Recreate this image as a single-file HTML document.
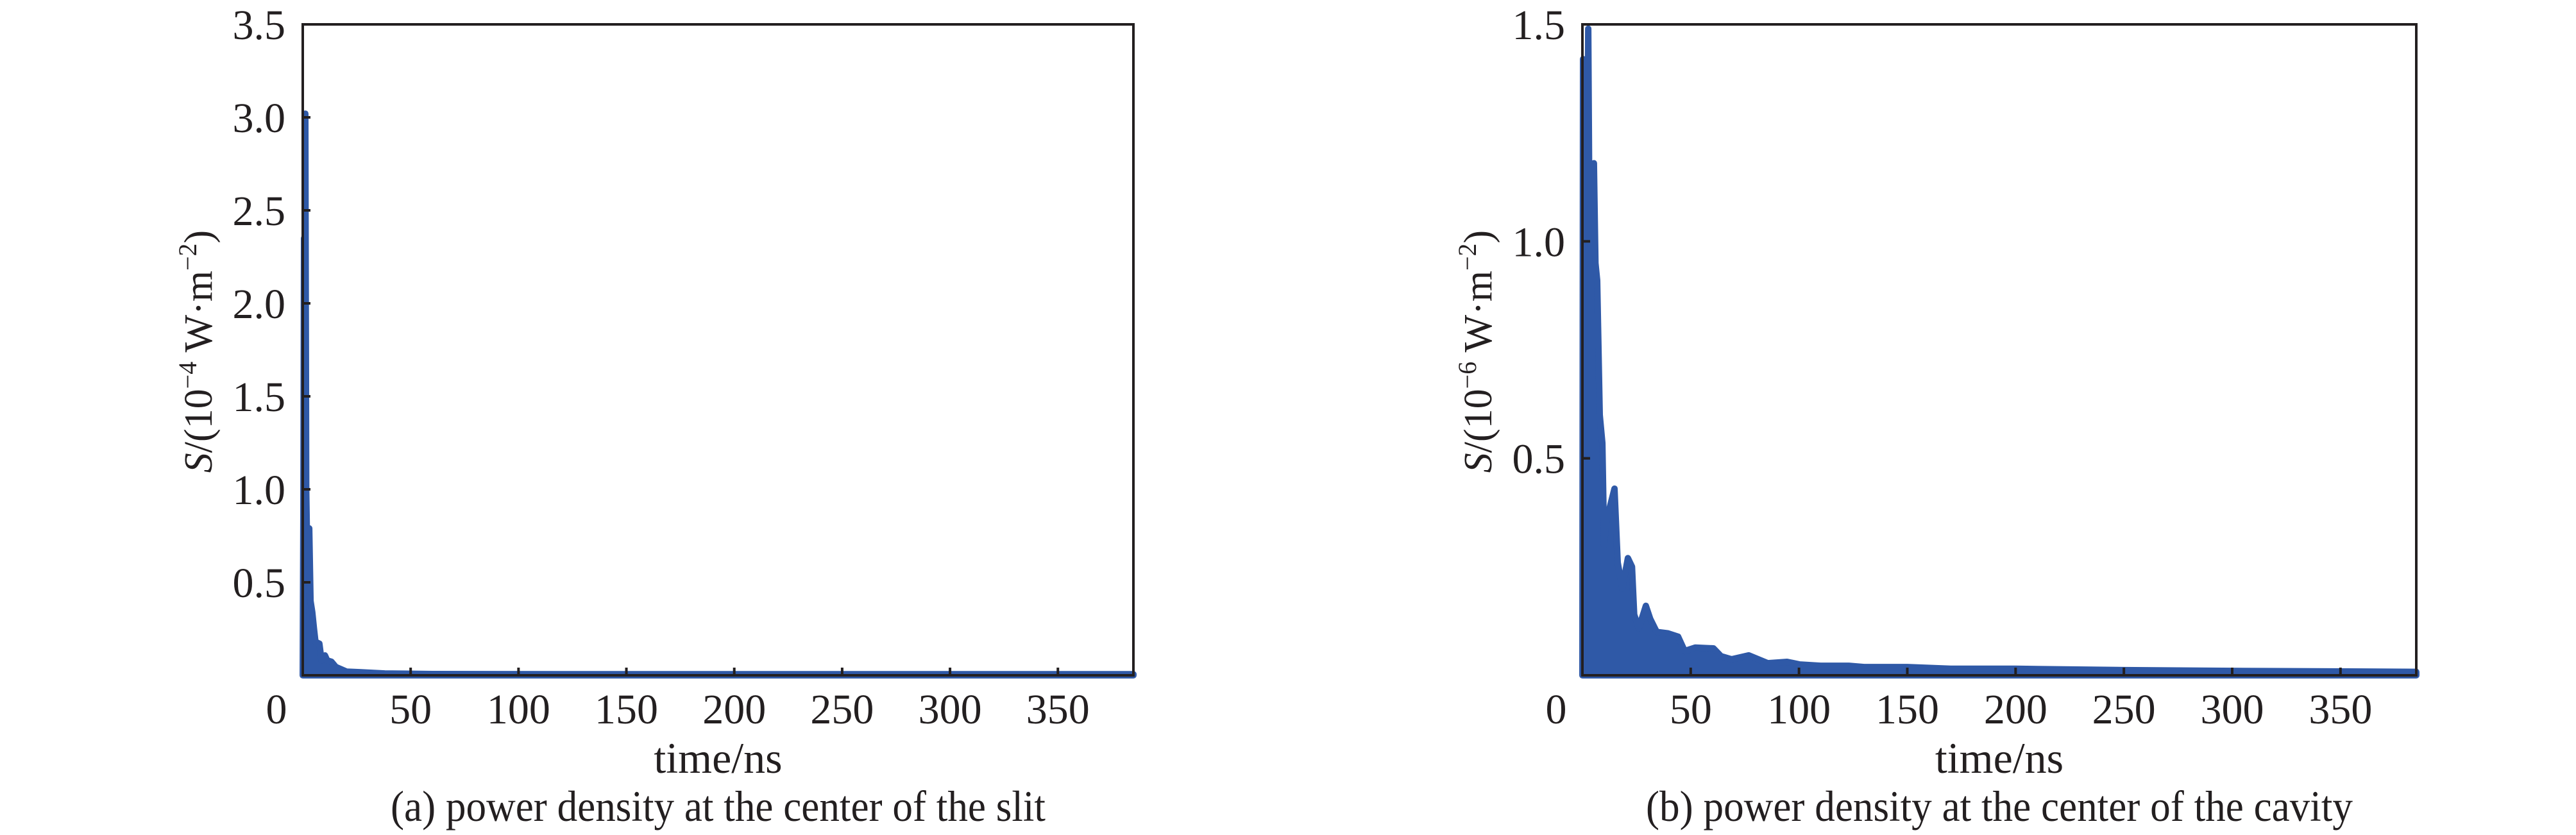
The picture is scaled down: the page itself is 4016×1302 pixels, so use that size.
<!DOCTYPE html>
<html>
<head>
<meta charset="utf-8">
<style>
  html,body{margin:0;padding:0;background:#fff;}
  svg{display:block;}
  text{font-family:"Liberation Serif","Times New Roman",serif;fill:#231f20;}
</style>
</head>
<body>
<svg id="fig" width="4016" height="1302" viewBox="0 0 4016 1302" xmlns="http://www.w3.org/2000/svg">
  <rect x="0" y="0" width="4016" height="1302" fill="#fff"/>
  <g id="panelA"></g>
  <g id="panelB"></g>
</svg>
<script>
// Shared axis data
const xTickValues = [0, 50, 100, 150, 200, 250, 300, 350];
const xMax = 385;

// Panel (a) data: power density at the center of the slit (x10^-4 W/m^2)
const yTicksA = [0.5, 1.0, 1.5, 2.0, 2.5, 3.0, 3.5];
const yTickLabelsA = ["0.5", "1.0", "1.5", "2.0", "2.5", "3.0", "3.5"];
const timesA = [0, 0.3, 0.6, 0.9, 1.2, 1.6, 2.0, 2.5, 3.0, 3.6, 4.4, 5.2, 5.9, 7.7, 8.7, 10.3, 11.3, 13.3, 15.3, 20.3, 26.3, 38, 60, 120, 200, 300, 385];
const valuesA = [0, 0.9, 2.35, 1.5, 3.02, 1.0, 0.7, 0.6, 0.79, 0.4, 0.34, 0.25, 0.18, 0.17, 0.08, 0.107, 0.08, 0.073, 0.045, 0.02, 0.017, 0.01, 0.007, 0.006, 0.006, 0.006, 0.006];

// Panel (b) data: power density at the center of the cavity (x10^-6 W/m^2)
const yTicksB = [0.5, 1.0, 1.5];
const yTickLabelsB = ["0.5", "1.0", "1.5"];
const timesB = [0, 0.3, 1.0, 2.0, 2.7, 3.3, 4.2, 5.3, 6.0, 6.8, 8.0, 9.2, 10.0, 10.8, 12.8, 14.8, 16.3, 18.4, 21.0, 22.9, 23.9, 26, 29.3, 31.3, 34.3, 39.3, 44.2, 47.2, 52.1, 60.5, 64, 68.9, 76.8, 85.6, 94.5, 100.4, 110, 123, 130, 150, 170, 200, 250, 306, 385];
const valuesB = [0, 1.42, 1.1, 1.0, 1.49, 1.0, 0.98, 1.18, 0.95, 0.91, 0.6, 0.535, 0.3, 0.35, 0.39, 0.43, 0.26, 0.2, 0.27, 0.25, 0.14, 0.108, 0.16, 0.13, 0.10, 0.097, 0.089, 0.056, 0.064, 0.062, 0.044, 0.037, 0.046, 0.028, 0.031, 0.025, 0.022, 0.022, 0.019, 0.019, 0.015, 0.015, 0.012, 0.010, 0.008];

const NS = "http://www.w3.org/2000/svg";
function mk(parent, tag, attrs) {
  const el = document.createElementNS(NS, tag);
  for (const k in attrs) el.setAttribute(k, attrs[k]);
  parent.appendChild(el);
  return el;
}

function drawPanel(g, cfg, yTicks, yLabels, times, values) {
  const L = cfg.left, R = cfg.right, T = 38, B = 1053;
  const xs = t => L + (t / xMax) * (R - L);
  const ys = v => B - (v / cfg.yMax) * (B - T);

  // data area
  let d = "M" + xs(times[0]).toFixed(1) + "," + B;
  for (let i = 0; i < times.length; i++) {
    d += " L" + xs(times[i]).toFixed(1) + "," + ys(values[i]).toFixed(1);
  }
  d += " L" + xs(times[times.length - 1]).toFixed(1) + "," + B + " Z";
  const series = mk(g, "path", {d: d, fill: "#2f59a7", stroke: "#2f59a7", "stroke-width": 10, "stroke-linejoin": "round", "stroke-linecap": "round"});
  
  

  // frame
  const frame = mk(g, "rect", {x: L, y: T, width: R - L, height: B - T, fill: "none", stroke: "#231f20", "stroke-width": 4});
  
  

  // x ticks
  for (let i = 0; i < xTickValues.length; i++) {
    const v = xTickValues[i];
    const x = xs(v);
    if (v > 0) {
      const tk = mk(g, "line", {x1: x, y1: B, x2: x, y2: B - 12, stroke: "#231f20", "stroke-width": 4});
      
      
    }
    const lx = v === 0 ? L - 41 : x;
    const tx = mk(g, "text", {x: lx, y: 1128, "font-size": 66, "text-anchor": "middle"});
    tx.textContent = String(v);
    
    
  }

  // y ticks
  for (let i = 0; i < yTicks.length; i++) {
    const y = ys(yTicks[i]);
    if (yTicks[i] < cfg.yMax) {
      const tk = mk(g, "line", {x1: L, y1: y, x2: L + 12, y2: y, stroke: "#231f20", "stroke-width": 4});
      
      
    }
    const tx = mk(g, "text", {x: L - 27, y: y + 23, "font-size": 66, "text-anchor": "end"});
    tx.textContent = yLabels[i];
    
    
  }

  // y axis title
  const yt = mk(g, "text", {x: 0, y: 0, "font-size": 62, "text-anchor": "middle", transform: "translate(" + (L - 142) + ",548) rotate(-90)"});
  
  
  const s1 = mk(yt, "tspan", {"font-style": "italic"}); s1.textContent = "S";
  const s2 = mk(yt, "tspan", {}); s2.textContent = "/(10";
  const s3 = mk(yt, "tspan", {"font-size": 40, dy: -24}); s3.textContent = cfg.exp;
  const s4 = mk(yt, "tspan", {dy: 24}); s4.textContent = " W·m";
  const s5 = mk(yt, "tspan", {"font-size": 40, dy: -24}); s5.textContent = "−2";
  const s6 = mk(yt, "tspan", {dy: 24}); s6.textContent = ")";

  // x axis title
  const xt = mk(g, "text", {x: (L + R) / 2, y: 1205, "font-size": 68, "text-anchor": "middle"});
  xt.textContent = "time/ns";
  
  

  // caption
  const cap = mk(g, "text", {x: (L + R) / 2, y: 1280, "font-size": 68, "text-anchor": "middle", textLength: cfg.capLen, lengthAdjust: "spacingAndGlyphs"});
  cap.textContent = cfg.caption;
  
  
}

drawPanel(document.getElementById("panelA"),
  {left: 472, right: 1767, yMax: 3.5, exp: "−4", caption: "(a) power density at the center of the slit", capLen: 1021},
  yTicksA, yTickLabelsA, timesA, valuesA);
drawPanel(document.getElementById("panelB"),
  {left: 2467, right: 3767, yMax: 1.5, exp: "−6", caption: "(b) power density at the center of the cavity", capLen: 1102},
  yTicksB, yTickLabelsB, timesB, valuesB);
</script>
</body>
</html>
